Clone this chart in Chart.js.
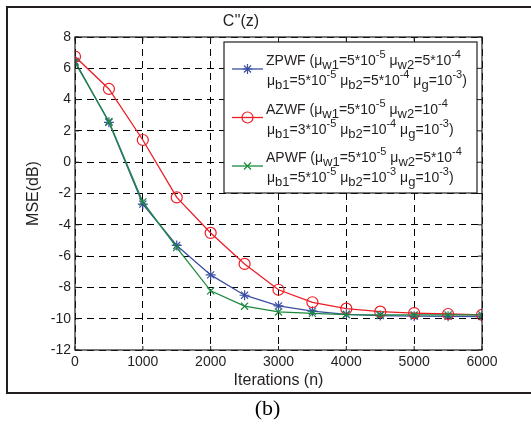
<!DOCTYPE html>
<html>
<head>
<meta charset="utf-8">
<script src="https://cdn.jsdelivr.net/npm/chart.js@4/dist/chart.umd.min.js"></script>
<style>
  html, body { margin: 0; padding: 0; background: #fff; }
  #wrap { width: 531px; height: 425px; position: relative; }
</style>
</head>
<body>
<div id="wrap"><canvas id="c" width="531" height="425"></canvas></div>
<script>
// ---- data ----
const iterations = [0, 500, 1000, 1500, 2000, 2500, 3000, 3500, 4000, 4500, 5000, 5500, 6000];
const zpwf = [6.45, 2.55, -2.68, -5.32, -7.2, -8.5, -9.18, -9.52, -9.72, -9.8, -9.84, -9.85, -9.86];
const azwf = [6.75, 4.68, 1.42, -2.25, -4.52, -6.5, -8.15, -8.95, -9.36, -9.55, -9.64, -9.7, -9.75];
const apwf = [6.38, 2.6, -2.54, -5.46, -8.22, -9.2, -9.57, -9.66, -9.74, -9.75, -9.76, -9.76, -9.76];
const seriesNames = ['ZPWF', 'AZWF', 'APWF'];
const xTicks = [0, 1000, 2000, 3000, 4000, 5000, 6000];
const yTicks = [-12, -10, -8, -6, -4, -2, 0, 2, 4, 6, 8];
const chartTitle = "C''(z)";
const xTitle = 'Iterations (n)';
const yTitle = 'MSE(dB)';
const caption = '(b)';
// legend parameter text: [text, kind] kind: n = normal, b = subscript, p = superscript
const legendParams = [
  [
    [['(', 'n'], ['μ', 'n'], ['w1', 'b'], ['=5*10', 'n'], ['-5', 'p'], [' μ', 'n'], ['w2', 'b'], ['=5*10', 'n'], ['-4', 'p']],
    [['μ', 'n'], ['b1', 'b'], ['=5*10', 'n'], ['-5', 'p'], [' μ', 'n'], ['b2', 'b'], ['=5*10', 'n'], ['-4', 'p'], [' μ', 'n'], ['g', 'b'], ['=10', 'n'], ['-3', 'p'], [')', 'n']]
  ],
  [
    [['(', 'n'], ['μ', 'n'], ['w1', 'b'], ['=5*10', 'n'], ['-5', 'p'], [' μ', 'n'], ['w2', 'b'], ['=10', 'n'], ['-4', 'p']],
    [['μ', 'n'], ['b1', 'b'], ['=3*10', 'n'], ['-5', 'p'], [' μ', 'n'], ['b2', 'b'], ['=10', 'n'], ['-4', 'p'], [' μ', 'n'], ['g', 'b'], ['=10', 'n'], ['-3', 'p'], [')', 'n']]
  ],
  [
    [['(', 'n'], ['μ', 'n'], ['w1', 'b'], ['=5*10', 'n'], ['-5', 'p'], [' μ', 'n'], ['w2', 'b'], ['=5*10', 'n'], ['-4', 'p']],
    [['μ', 'n'], ['b1', 'b'], ['=5*10', 'n'], ['-5', 'p'], [' μ', 'n'], ['b2', 'b'], ['=10', 'n'], ['-3', 'p'], [' μ', 'n'], ['g', 'b'], ['=10', 'n'], ['-3', 'p'], [')', 'n']]
  ]
];

const FONT = '"Liberation Sans", Arial, Helvetica, sans-serif';
const INK = '#231f20';
const colors = ['#3c4fa3', '#ee1c25', '#1b8a3c'];
const styles = ['star', 'circle', 'crossRot'];
const radii = [5, 5.5, 5];

function pts(arr) { return iterations.map((x, i) => ({ x: x, y: arr[i] })); }
const allSeries = [zpwf, azwf, apwf];

const datasets = allSeries.map((s, i) => ({
  label: seriesNames[i],
  data: pts(s),
  borderColor: colors[i],
  backgroundColor: 'rgba(0,0,0,0)',
  pointBorderColor: colors[i],
  pointBackgroundColor: 'rgba(0,0,0,0)',
  pointStyle: styles[i],
  pointRadius: radii[i],
  pointBorderWidth: 1.2,
  borderWidth: 1.3,
  tension: 0,
  order: 3 - i
}));

const decor = {
  id: 'decor',
  beforeDraw(chart) {
    const ctx = chart.ctx;
    ctx.save();
    ctx.fillStyle = '#fff';
    ctx.fillRect(0, 0, chart.width, chart.height);
    ctx.strokeStyle = INK;
    ctx.lineWidth = 2;
    ctx.strokeRect(7, 7, chart.width + 20, 386);
    ctx.fillStyle = '#000';
    ctx.font = '22px "Liberation Serif", "Times New Roman", serif';
    ctx.textAlign = 'center';
    ctx.textBaseline = 'middle';
    ctx.fillText(caption, chart.width / 2 + 2, 409);
    ctx.restore();
  },
  afterDraw(chart) {
    const ctx = chart.ctx;
    const a = chart.chartArea;
    const xs = chart.scales.x, ys = chart.scales.y;
    ctx.save();
    // axes box
    ctx.strokeStyle = INK;
    ctx.lineWidth = 1.2;
    ctx.setLineDash([]);
    ctx.strokeRect(a.left, a.top, a.right - a.left, a.bottom - a.top);
    // inward ticks
    const tl = 4;
    ctx.beginPath();
    xTicks.forEach(v => {
      const px = xs.getPixelForValue(v);
      ctx.moveTo(px, a.bottom); ctx.lineTo(px, a.bottom - tl);
      ctx.moveTo(px, a.top); ctx.lineTo(px, a.top + tl);
    });
    yTicks.forEach(v => {
      const py = ys.getPixelForValue(v);
      ctx.moveTo(a.left, py); ctx.lineTo(a.left + tl, py);
      ctx.moveTo(a.right, py); ctx.lineTo(a.right - tl, py);
    });
    ctx.lineWidth = 1;
    ctx.stroke();

    // legend
    const lx = 224, ly = 42, lw = 253, lh = 151;
    ctx.fillStyle = '#fff';
    ctx.fillRect(lx, ly, lw, lh);
    ctx.strokeStyle = INK;
    ctx.lineWidth = 1.2;
    ctx.strokeRect(lx, ly, lw, lh);
    const metas = chart.data.datasets;
    metas.forEach((ds, i) => {
      const baseY = 65 + i * 48.5;
      const lineY = baseY + 4;
      ctx.strokeStyle = ds.borderColor;
      ctx.lineWidth = ds.borderWidth;
      ctx.beginPath();
      ctx.moveTo(232, lineY); ctx.lineTo(263, lineY);
      ctx.stroke();
      ctx.strokeStyle = ds.pointBorderColor;
      ctx.fillStyle = 'rgba(0,0,0,0)';
      ctx.lineWidth = ds.pointBorderWidth;
      Chart.helpers.drawPoint(ctx, {
        pointStyle: ds.pointStyle, radius: ds.pointRadius, borderWidth: ds.pointBorderWidth, rotation: 0
      }, 247.5, lineY);
      // text
      ctx.fillStyle = INK;
      ctx.textAlign = 'left';
      ctx.textBaseline = 'alphabetic';
      ctx.font = '14px ' + FONT;
      let x = 266;
      const name = ds.label + ' ';
      ctx.fillText(name, x, baseY);
      x += ctx.measureText(name).width;
      legendParams[i].forEach((line, li) => {
        let cx = li === 0 ? x : 267;
        const by = baseY + li * 20;
        line.forEach(([t, k]) => {
          let dy = 0;
          if (k === 'n') { ctx.font = '14px ' + FONT; }
          else if (k === 'b') { ctx.font = '13px ' + FONT; dy = 4; }
          else { ctx.font = '11px ' + FONT; dy = -7; }
          ctx.fillText(t, cx, by + dy);
          cx += ctx.measureText(t).width;
        });
      });
    });
    ctx.restore();
  }
};

Chart.defaults.font.family = FONT;

const chart = new Chart(document.getElementById('c'), {
  type: 'line',
  data: { datasets },
  options: {
    responsive: false,
    animation: false,
    devicePixelRatio: 1,
    layout: { padding: { top: 8, right: 49, left: 0, bottom: 0 } },
    plugins: {
      legend: { display: false },
      tooltip: { enabled: false },
      title: {
        display: true,
        text: chartTitle,
        color: INK,
        font: { size: 16, weight: 'normal', family: FONT },
        padding: { top: 4, bottom: 5.8 }
      }
    },
    scales: {
      x: {
        type: 'linear',
        min: 0, max: 6000,
        afterBuildTicks(scale) { scale.ticks = xTicks.map(v => ({ value: v })); },
        afterFit(scale) { scale.height = 75; },
        grid: { color: '#000', lineWidth: 1, drawTicks: false },
        border: { display: false, dash: [7, 5] },
        ticks: { color: INK, font: { size: 14 }, padding: 4, maxRotation: 0, callback: v => String(v) },
        title: { display: true, text: xTitle, color: INK, font: { size: 16 }, padding: { top: 0, bottom: 35 } }
      },
      y: {
        min: -12, max: 8,
        afterBuildTicks(scale) { scale.ticks = yTicks.map(v => ({ value: v })); },
        afterFit(scale) { scale.width = 75; },
        grid: { color: '#000', lineWidth: 1, drawTicks: false },
        border: { display: false, dash: [7, 5] },
        ticks: { color: INK, font: { size: 14 }, padding: 4, callback: v => String(v) },
        title: { display: true, text: yTitle, color: INK, font: { size: 16 }, padding: { top: 24, bottom: 0 } }
      }
    }
  },
  plugins: [decor]
});
</script>
</body>
</html>
